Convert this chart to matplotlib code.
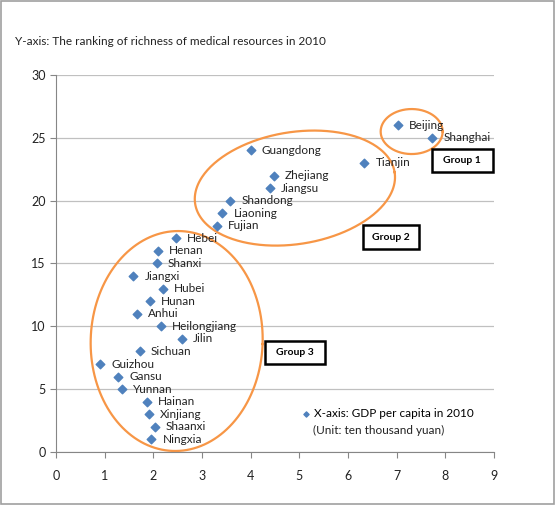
import matplotlib.pyplot as plt
import numpy as np
from matplotlib.patches import Rectangle

plt.rcParams['font.family'] = ['Lato', 'DejaVu Sans']

provinces = ['Beijing', 'Shanghai', 'Tianjin', 'Guangdong', 'Zhejiang', 'Jiangsu',
             'Shandong', 'Liaoning', 'Fujian', 'Hebei', 'Henan', 'Shanxi', 'Jiangxi',
             'Hubei', 'Hunan', 'Anhui', 'Heilongjiang', 'Jilin', 'Sichuan', 'Guizhou',
             'Gansu', 'Yunnan', 'Hainan', 'Xinjiang', 'Shaanxi', 'Ningxia']
gdp = [7.02, 7.73, 6.34, 4.00, 4.48, 4.39, 3.58, 3.42, 3.31, 2.46, 2.10, 2.07, 1.59,
       2.20, 1.93, 1.66, 2.15, 2.58, 1.72, 0.91, 1.28, 1.36, 1.87, 1.91, 2.03, 1.96]
rank = [26, 25, 23, 24, 22, 21, 20, 19, 18, 17, 16, 15, 14,
        13, 12, 11, 10, 9, 8, 7, 6, 5, 4, 3, 2, 1]

groups = ['Group 1', 'Group 2', 'Group 3']
# ellipse: centre (data), semi-axes in pixels, tilt in degrees
ell_center = [(7.31, 25.5), (4.91, 21.0), (2.48, 8.83)]
ell_axes = [(31, 22.5), (101, 56), (86, 110)]
ell_tilt = [0, 9, -2]
box_center = [(8.35, 23.2), (6.88, 17.1), (4.91, 7.9)]
box_size = [(1.25, 1.9), (1.15, 1.9), (1.23, 1.85)]

xmin, xmax, ymin, ymax = 0, 9, 0, 30
fig = plt.figure(figsize=(5.55, 5.05), dpi=100)
ax = fig.add_axes([0.1009, 0.105, 0.789, 0.7465])

# pixels per data unit
sx = 438 / (xmax - xmin)
sy = 377 / (ymax - ymin)

ax.scatter(gdp, rank, marker='D', s=19, color='#4F81BD', zorder=3,
           label='X-axis: GDP per capita in 2010')
for name, x, y in zip(provinces, gdp, rank):
    ax.annotate(name, (x, y), xytext=(8, 0), textcoords='offset points',
                va='center', ha='left', fontsize=8.5, color='#222222')

t = np.linspace(0, 2 * np.pi, 300)
for (cx, cy), (a, b), th in zip(ell_center, ell_axes, ell_tilt):
    r = np.radians(th)
    px = a * np.cos(t) * np.cos(r) - b * np.sin(t) * np.sin(r)
    py = a * np.cos(t) * np.sin(r) + b * np.sin(t) * np.cos(r)
    ax.plot(cx + px / sx, cy + py / sy, color='#F79646', lw=1.6, zorder=2)

for g, (bx, by), (bw, bh) in zip(groups, box_center, box_size):
    ax.add_patch(Rectangle((bx - bw / 2, by - bh / 2), bw, bh, fill=False,
                           edgecolor='black', lw=1.8, zorder=4, clip_on=False))
    ax.text(bx, by, g, ha='center', va='center', fontsize=7.5,
            fontweight='bold', zorder=5)

ax.set_xlim(xmin, xmax)
ax.set_ylim(ymin, ymax)
ax.set_xticks(np.arange(0, 10, 1))
ax.set_yticks(np.arange(0, 31, 5))
ax.yaxis.grid(True, color='#C0C0C0', lw=0.9)
ax.set_axisbelow(True)
for s in ['top', 'right']:
    ax.spines[s].set_visible(False)
for s in ['left', 'bottom']:
    ax.spines[s].set_color('#868686')
ax.tick_params(axis='both', colors='#868686', labelcolor='#222222',
               labelsize=9, length=4, direction='out')
ax.tick_params(axis='x', pad=9)

leg = ax.legend(loc='center left', bbox_to_anchor=(0.560, 0.101), frameon=False,
                fontsize=8.5, handletextpad=0.25, markerscale=0.6,
                borderaxespad=0, borderpad=0, handlelength=0.8)
ax.text(0.587, 0.058, '(Unit: ten thousand yuan)', transform=ax.transAxes,
        fontsize=8.5, ha='left', va='center', color='#222222')

fig.text(0.027, 0.917, 'Y-axis: The ranking of richness of medical resources in 2010',
         fontsize=8.5, va='center', ha='left', color='#222222')
fig.patches.append(Rectangle((0.002, 0.002), 0.996, 0.996, transform=fig.transFigure,
                             fill=False, edgecolor='#A0A0A0', lw=1.2))

fig.savefig('out.png', dpi=100)
